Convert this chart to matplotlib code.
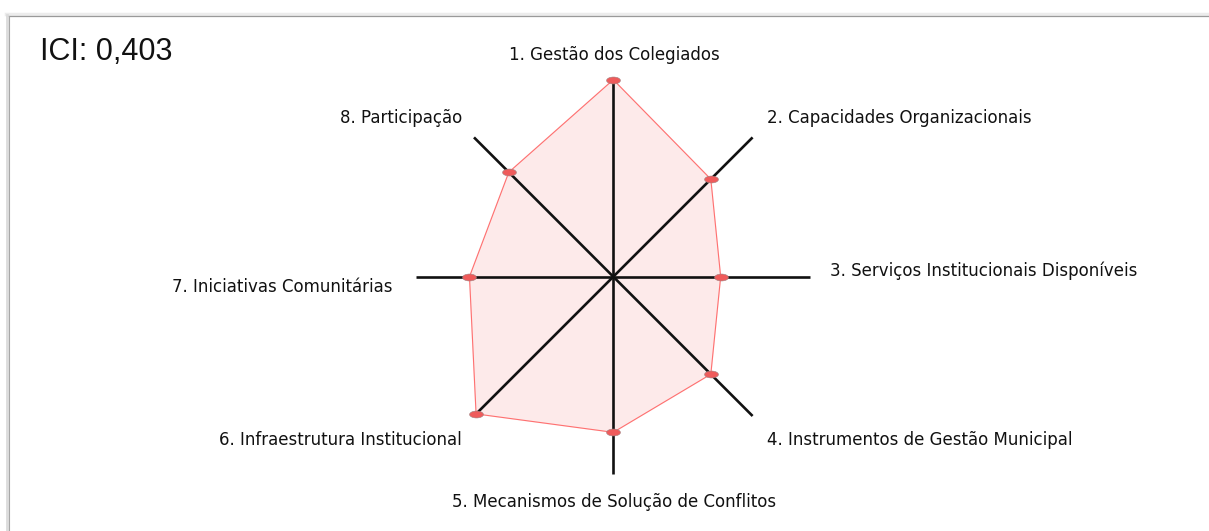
import numpy as np
import matplotlib
matplotlib.use('Agg')
import matplotlib.pyplot as plt
from matplotlib.path import Path
from matplotlib.lines import Line2D

# dados do radar
categorias = [
    '1. Gestão dos Colegiados',
    '2. Capacidades Organizacionais',
    '3. Serviços Institucionais Disponíveis',
    '4. Instrumentos de Gestão Municipal',
    '5. Mecanismos de Solução de Conflitos',
    '6. Infraestrutura Institucional',
    '7. Iniciativas Comunitárias',
    '8. Participação',
]
valores = [1.0, 0.70, 0.545, 0.70, 0.79, 0.985, 0.73, 0.75]
indice_ici = '0,403'

W, H = 1209, 531
fig = plt.figure(figsize=(W / 100, H / 100), dpi=100)
fig.patch.set_facecolor('white')

# eixo polar centrado no radar (posicoes em pixels)
cx, cy, R = 613.3, 276.7, 197
ax = fig.add_axes([(cx - R) / W, (H - cy - R) / H, 2 * R / W, 2 * R / H],
                  projection='polar')
ax.set_theta_zero_location('N')
ax.set_theta_direction(-1)
ax.set_ylim(0, 1)
ax.grid(False)
ax.set_xticks([])
ax.set_yticks([])
ax.spines['polar'].set_visible(False)
ax.patch.set_alpha(0)

n = len(categorias)
ang = np.arange(n) * 2 * np.pi / n

# raios
for a in ang:
    ax.plot([a, a], [0, 1], color='#111111', lw=1.9, zorder=3,
            solid_capstyle='butt', clip_on=False)

# poligono
ang_c = np.append(ang, ang[0])
val_c = np.append(valores, valores[0])
ax.fill(ang_c, val_c, color='#fdeaea', zorder=1, clip_on=False)
ax.plot(ang_c, val_c, color='#ff7070', lw=0.8, zorder=2, clip_on=False)

# marcadores elipticos
circ = Path.unit_circle()
elipse = Path(circ.vertices * np.array([1.0, 0.5]), circ.codes)
ax.plot(ang, valores, ls='none', marker=elipse, markersize=10,
        markerfacecolor='#ef5b5b', markeredgecolor='#a08080',
        markeredgewidth=0.4, zorder=4, clip_on=False)

# rotulos (posicoes em pixels)
pos = [
    (614, 55, 'center'),
    (767, 118, 'left'),
    (830, 271, 'left'),
    (767, 440, 'left'),
    (614, 502, 'center'),
    (462, 440, 'right'),
    (392, 287, 'right'),
    (462, 118, 'right'),
]
for lab, (x, y, ha) in zip(categorias, pos):
    fig.text(x / W, 1 - y / H, lab, ha=ha, va='center', fontsize=12,
             color='#111111', family='DejaVu Sans')

fig.text(40 / W, 1 - 52 / H, 'ICI: ' + indice_ici, ha='left', va='center',
         fontsize=22, color='#111111', family='Liberation Sans')

# moldura cinza (topo e esquerda)
fig.add_artist(Line2D([6 / W, 1], [1 - 13.5 / H] * 2, color='#ececec', lw=2.5,
                      transform=fig.transFigure))
fig.add_artist(Line2D([7 / W, 1], [1 - 15.5 / H] * 2, color='#9a9a9a', lw=0.9,
                      transform=fig.transFigure))
fig.add_artist(Line2D([6.5 / W] * 2, [0, 1 - 15 / H], color='#dcdcdc', lw=2.0,
                      transform=fig.transFigure))
fig.add_artist(Line2D([8.5 / W] * 2, [0, 1 - 15.5 / H], color='#a8a8a8', lw=0.8,
                      transform=fig.transFigure))

fig.savefig('out.png', dpi=100, facecolor='white')
